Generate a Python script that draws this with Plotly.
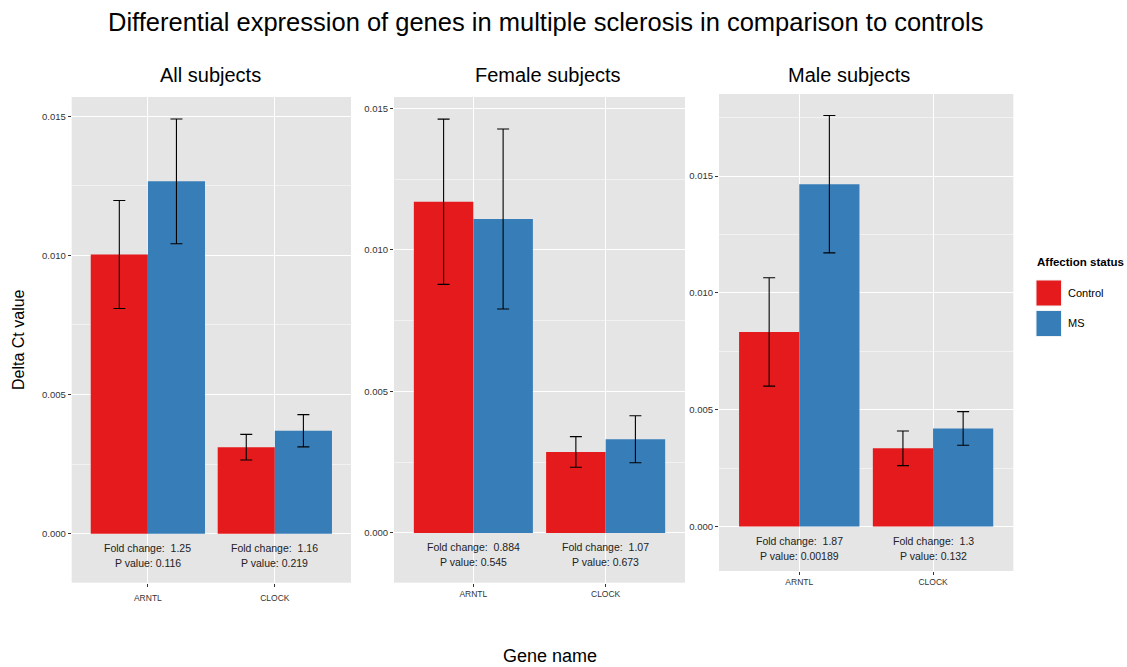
import plotly.graph_objects as go

# ---------------- data ----------------
genes = ["ARNTL", "CLOCK"]
groups = ["Control", "MS"]
panel_titles = ["All subjects", "Female subjects", "Male subjects"]

# mean delta Ct values per panel [ARNTL, CLOCK]
all_control = [0.01003, 0.00311]
all_ms = [0.01266, 0.00370]
female_control = [0.01170, 0.00286]
female_ms = [0.01109, 0.00331]
male_control = [0.00833, 0.00335]
male_ms = [0.01465, 0.00420]

# standard errors
all_control_se = [0.00194, 0.00046]
all_ms_se = [0.00224, 0.00058]
female_control_se = [0.00292, 0.00054]
female_ms_se = [0.00318, 0.00083]
male_control_se = [0.00232, 0.00074]
male_ms_se = [0.00294, 0.00072]

# annotation statistics per panel [ARNTL, CLOCK]
all_fold = ["1.25", "1.16"]
all_p = ["0.116", "0.219"]
female_fold = ["0.884", "1.07"]
female_p = ["0.545", "0.673"]
male_fold = ["1.87", "1.3"]
male_p = ["0.00189", "0.132"]

y_ticks = [0.0, 0.005, 0.010, 0.015]

# ---------------- styling ----------------
W, H = 1127, 667
RED = "#E41A1C"
BLUE = "#377EB8"
BG = "#E5E5E5"
FONT = "Liberation Sans, Arial, Helvetica, sans-serif"

def px_x(a, b):
    return [a / W, b / W]

def px_y(top, bottom):
    return [1 - bottom / H, 1 - top / H]

panels = [
    dict(ctrl=all_control, ms=all_ms, cse=all_control_se, mse=all_ms_se,
         fold=all_fold, p=all_p, xd=px_x(71.7, 351), yd=px_y(97, 582.7),
         yr=[-0.00176, 0.01569], tx=210, standoff=4),
    dict(ctrl=female_control, ms=female_ms, cse=female_control_se, mse=female_ms_se,
         fold=female_fold, p=female_p, xd=px_x(394, 685), yd=px_y(97, 582.7),
         yr=[-0.00176, 0.0154], tx=548, standoff=0),
    dict(ctrl=male_control, ms=male_ms, cse=male_control_se, mse=male_ms_se,
         fold=male_fold, p=male_p, xd=px_x(719, 1013.3), yd=px_y(94, 571),
         yr=[-0.0019, 0.01851], tx=849, standoff=0),
]

fig = go.Figure()
annotations = []

for i, pnl in enumerate(panels):
    k = "" if i == 0 else str(i + 1)
    xa, ya = "x" + k, "y" + k
    for name, vals, se, col in [("Control", pnl["ctrl"], pnl["cse"], RED),
                                ("MS", pnl["ms"], pnl["mse"], BLUE)]:
        fig.add_trace(go.Bar(
            x=genes, y=vals, name=name, xaxis=xa, yaxis=ya,
            marker=dict(color=col, line=dict(width=0)),
            error_y=dict(type="data", array=se, visible=True,
                         color="black", thickness=1.1, width=6),
            showlegend=False, offsetgroup=name,
        ))
    for g, f, p in zip(genes, pnl["fold"], pnl["p"]):
        for txt, shift in [(f"Fold change:  {f}", -14), (f"P value: {p}", -29)]:
            annotations.append(dict(
                x=g, y=0, xref=xa, yref=ya, showarrow=False, text=txt,
                font=dict(family=FONT, size=10.5, color="#222"),
                yanchor="middle", yshift=shift,
            ))
    annotations.append(dict(
        x=pnl["tx"] / W, y=1 - 75 / H, xref="paper", yref="paper",
        text=panel_titles[i], showarrow=False,
        font=dict(family=FONT, size=20, color="black"),
        xanchor="center", yanchor="middle",
    ))
    fig.update_layout(**{
        "xaxis" + k: dict(
            domain=pnl["xd"], anchor=ya, type="category",
            range=[-0.6, 1.6], showgrid=True, gridcolor="white", gridwidth=1.2,
            ticks="outside", ticklen=3, tickcolor="#333",
            tickfont=dict(family=FONT, size=8.5, color="#333"),
            ticklabelstandoff=pnl["standoff"], showline=False, zeroline=False,
        ),
        "yaxis" + k: dict(
            domain=pnl["yd"], anchor=xa, range=pnl["yr"],
            tickvals=y_ticks, tickformat=".3f",
            showgrid=True, gridcolor="white", gridwidth=1.2,
            minor=dict(dtick=0.0025, tick0=0, showgrid=True,
                       gridcolor="#F2F2F2", gridwidth=0.6),
            ticks="outside", ticklen=3, tickcolor="#333",
            tickfont=dict(family=FONT, size=9.5, color="#333"),
            showline=False, zeroline=False,
        ),
    })

# main title and axis titles
annotations.append(dict(
    x=545 / W, y=1 - 22 / H, xref="paper", yref="paper", showarrow=False,
    text="Differential expression of genes in multiple sclerosis in comparison to controls",
    font=dict(family=FONT, size=25.5, color="black"), xanchor="center", yanchor="middle",
))
annotations.append(dict(
    x=550 / W, y=1 - 656 / H, xref="paper", yref="paper", showarrow=False,
    text="Gene name", font=dict(family=FONT, size=18, color="black"),
    xanchor="center", yanchor="middle",
))
annotations.append(dict(
    x=18 / W, y=1 - 340 / H, xref="paper", yref="paper", showarrow=False,
    text="Delta Ct value", textangle=-90,
    font=dict(family=FONT, size=16, color="black"),
    xanchor="center", yanchor="middle",
))

# legend (drawn manually to match ggplot key size)
annotations.append(dict(
    x=1035 / W, y=1 - 262 / H, xref="paper", yref="paper", showarrow=False,
    text="<b>Affection status</b>", font=dict(family=FONT, size=11.5, color="black"),
    xanchor="left", yanchor="middle",
))
shapes = []
for j, (g, col) in enumerate(zip(groups, [RED, BLUE])):
    top = 280 + j * 30.5
    shapes.append(dict(
        type="rect", xref="paper", yref="paper",
        x0=1036 / W, x1=1061.5 / W, y0=1 - (top + 26) / H, y1=1 - top / H,
        fillcolor=col, line=dict(color="#F2F2F2", width=1),
    ))
    annotations.append(dict(
        x=1066 / W, y=1 - (top + 13) / H, xref="paper", yref="paper",
        showarrow=False, text=g, font=dict(family=FONT, size=11, color="black"),
        xanchor="left", yanchor="middle",
    ))

fig.update_layout(
    width=W, height=H, margin=dict(l=0, r=0, t=0, b=0),
    paper_bgcolor="white", plot_bgcolor=BG,
    barmode="group", bargap=0.1, bargroupgap=0,
    annotations=annotations, shapes=shapes, showlegend=False,
)

fig.write_html(
    "out.html",
    config={"displayModeBar": False},
    post_script="document.body.style.margin='0';document.body.style.padding='0';",
)
